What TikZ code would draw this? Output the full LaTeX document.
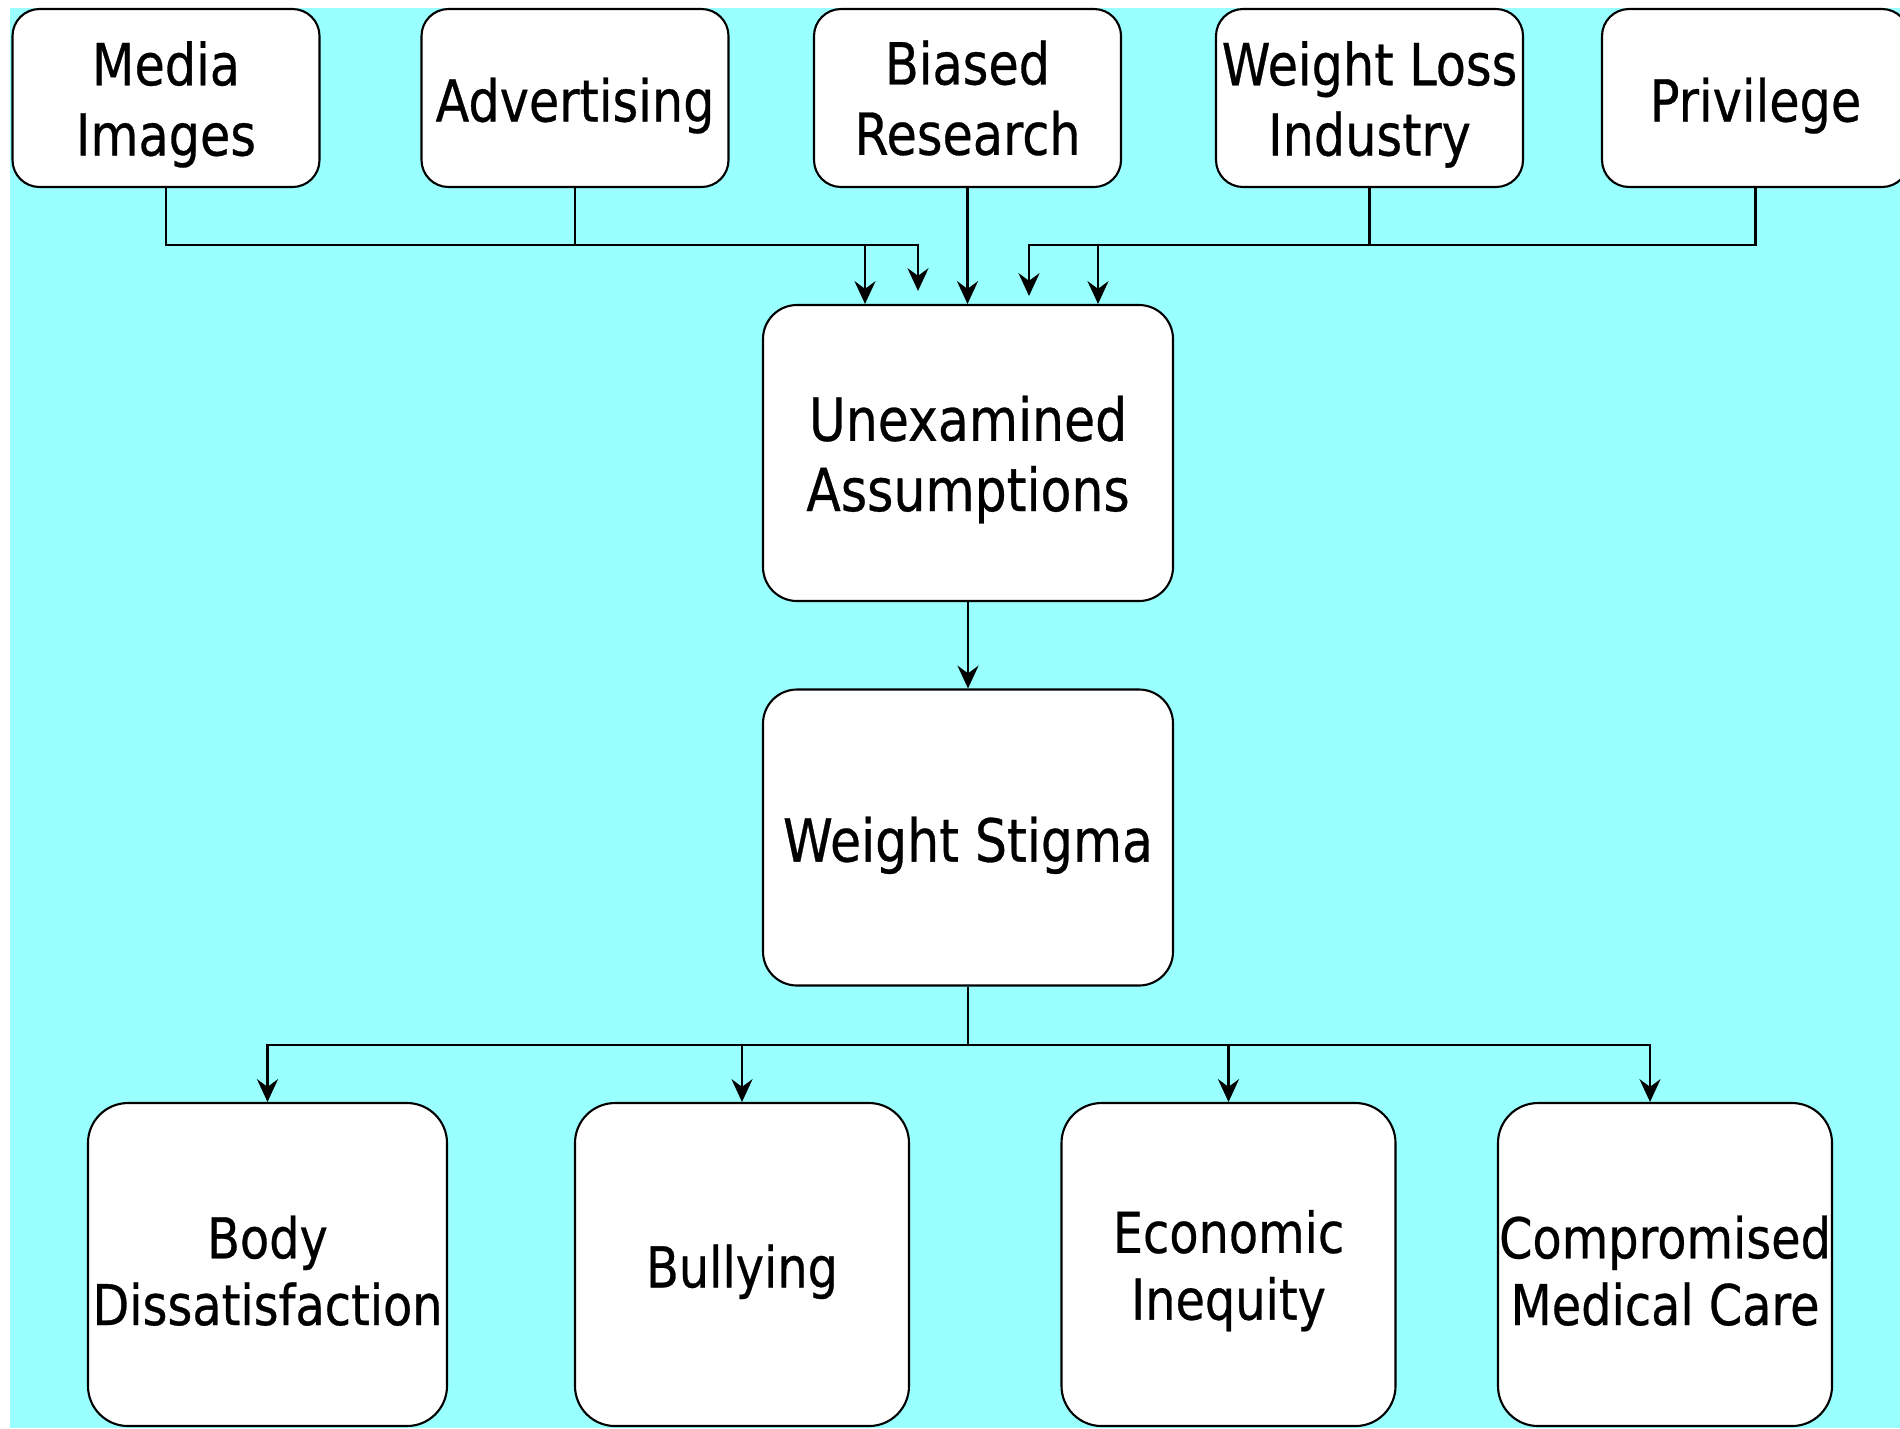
\documentclass[tikz,border=0pt]{standalone}
\usepackage{fontspec}
\setmainfont{DejaVu Sans}[FakeStretch=0.85,FakeBold=0.5]
\usetikzlibrary{arrows.meta}
\definecolor{bgcyan}{RGB}{153,255,255}
\newcommand{\up}{\rule{0pt}{0.98em}}

\begin{document}
\begin{tikzpicture}[
    box/.style={draw=black,line width=0.6pt,fill=white,align=center,inner sep=0pt,
      execute at begin node={\rule{0pt}{1.02em}}},
    topbox/.style={box,rounded corners=0.27cm,minimum width=3.07cm,minimum height=1.78cm,
      font=\fontsize{16.5pt}{20pt}\selectfont},
    midbox/.style={box,rounded corners=0.34cm,minimum width=4.1cm,minimum height=2.96cm,
      font=\fontsize{16.9pt}{20pt}\selectfont},
    lowbox/.style={box,rounded corners=0.4cm,minimum width=3.34cm,minimum height=3.23cm,
      font=\fontsize{16pt}{19pt}\selectfont},
    line/.style={line width=0.6pt},
    link/.style={line,-{Stealth[length=6.5pt,width=6pt,inset=2.2pt]}}]
  \useasboundingbox (0,0) rectangle (19,-14.28);
  \fill[bgcyan] (0.10,-0.08) rectangle (19,-14.28);

  % causes
  \foreach \name/\x/\txt in {media/1.66/\up Media\\Images, advert/5.75/Advertising,
      biased/9.675/Biased\\Research, wlind/13.695/\up Weight Loss\\Industry,
      priv/17.555/Privilege} {
    \node[topbox] (\name) at (\x,-0.98) {\txt};
  }
  \node[midbox] (unex) at (9.68,-4.53) {\up Unexamined\\Assumptions};
  \node[midbox] (stigma) at (9.68,-8.375) {Weight Stigma};

  % effects
  \node[lowbox,minimum width=3.59cm] (body) at (2.675,-12.645) {\up Body\\Dissatisfaction};
  \foreach \name/\x/\txt in {bully/7.42/Bullying, econ/12.285/\up Economic\\Inequity,
      comp/16.65/\up Compromised\\Medical Care} {
    \node[lowbox] (\name) at (\x,-12.645) {\txt};
  }

  \coordinate (bus) at (0,-2.45);
  \coordinate (bus2) at (0,-10.45);

  \draw[link] (media.south) -- (media.south |- bus) -| ([xshift=-5mm,yshift=1.3mm]unex.north);
  \draw[link] (advert.south) -- (advert.south |- bus) -| ([xshift=-10.3mm]unex.north);
  \draw[link] (biased.south) -- (biased.south |- unex.north);
  \draw[link] (wlind.south) -- (wlind.south |- bus) -| ([xshift=13mm]unex.north);
  \draw[link] (priv.south) -- (priv.south |- bus) -| ([xshift=6.1mm,yshift=0.8mm]unex.north);

  \draw[link] (unex) -- (stigma);

  \draw[line] (stigma.south) -- (stigma.south |- bus2);
  \foreach \n in {body,bully,econ} {
    \draw[link] (stigma.south |- bus2) -| (\n.north);
  }
  \draw[link] (stigma.south |- bus2) -| ([xshift=-1.5mm]comp.north);
\end{tikzpicture}
\end{document}
